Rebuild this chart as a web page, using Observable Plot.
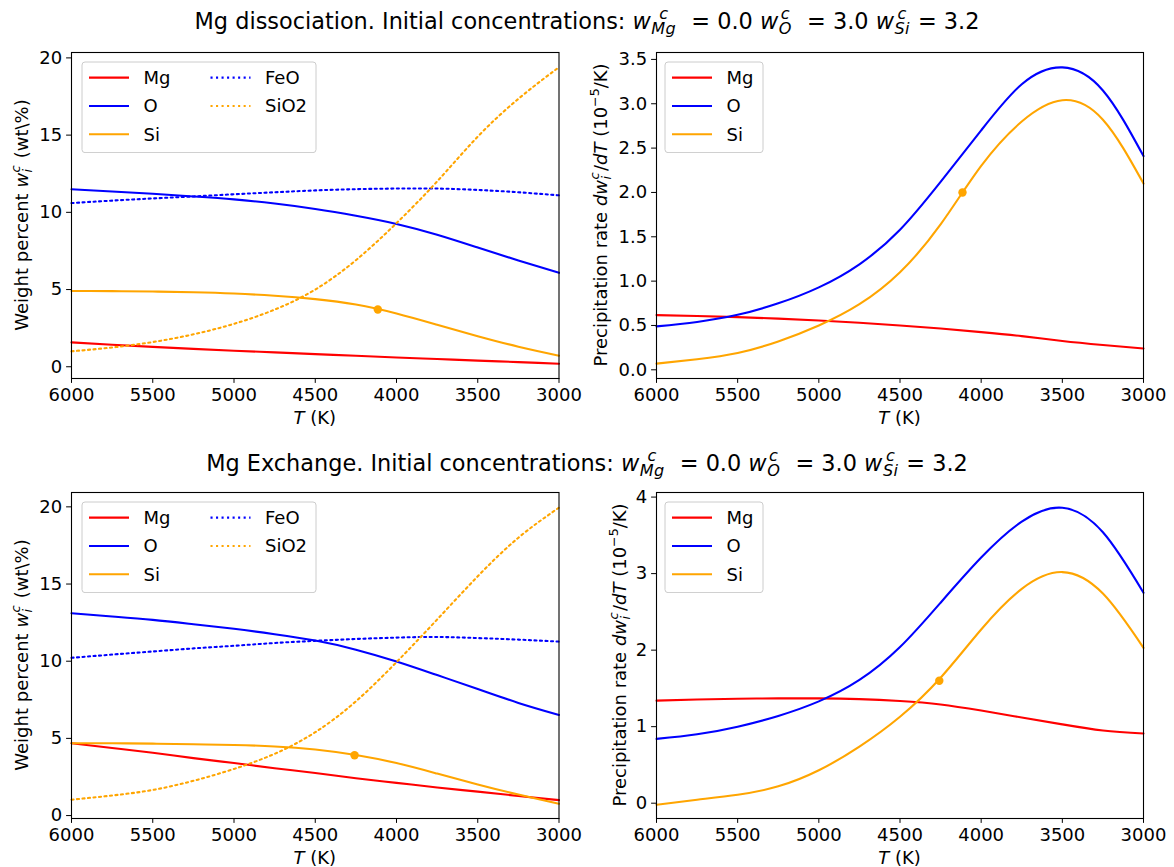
<!DOCTYPE html>
<html><head><meta charset="utf-8">
<script src="https://cdn.jsdelivr.net/npm/d3@7"></script>
<script src="https://cdn.jsdelivr.net/npm/@observablehq/plot@0.6"></script>
<style>
body{margin:0;background:#fff;}
#fig{position:relative;width:1174px;height:867px;font-family:"DejaVu Sans";color:#000;overflow:hidden;background:#fff}
.title{position:absolute;left:0;width:1174px;height:22px;text-align:center;font-size:22.4px;line-height:22px;white-space:pre}
.lab{position:absolute;font-size:18px;line-height:18px;white-space:pre;transform:translate(-50%,-50%)}
.rot{transform:translate(-50%,-50%) rotate(-90deg)}
.ms{display:inline-flex;flex-direction:column;font-size:0.72em;line-height:0.95;vertical-align:0.62em;font-style:italic;margin-left:0.5px;margin-right:1px;letter-spacing:0.02em}
.sup{font-size:0.7em;vertical-align:0.6em}
</style></head><body><div id="fig"></div><script>
// ---------- data ----------
const T = [6000,5750,5500,5250,5000,4750,4500,4250,4000,3750,3500,3250,3000];
const xTicks = [6000,5500,5000,4500,4000,3500,3000];

// Mg dissociation: weight percent
const diss_Mg   = [1.58,1.43,1.29,1.16,1.04,0.93,0.82,0.71,0.60,0.50,0.40,0.30,0.20];
const diss_O    = [11.49,11.35,11.20,11.03,10.84,10.57,10.22,9.78,9.25,8.55,7.72,6.88,6.08];
const diss_Si   = [4.91,4.90,4.87,4.82,4.74,4.60,4.38,4.03,3.45,2.72,1.98,1.30,0.72];
const diss_FeO  = [10.60,10.76,10.90,11.03,11.17,11.30,11.42,11.50,11.54,11.54,11.45,11.30,11.10];
const diss_SiO2 = [1.00,1.25,1.60,2.10,2.78,3.70,5.00,6.90,9.30,12.00,14.90,17.35,19.40];
// Mg dissociation: precipitation rate (1e-5 / K)
const dissR_Mg  = [0.617,0.607,0.594,0.577,0.556,0.530,0.500,0.465,0.425,0.380,0.325,0.280,0.240];
const dissR_O   = [0.49,0.54,0.62,0.75,0.93,1.19,1.58,2.12,2.70,3.22,3.41,3.15,2.41];
const dissR_Si  = [0.07,0.12,0.19,0.32,0.50,0.74,1.10,1.64,2.30,2.80,3.04,2.82,2.10];
const dissMarkT = [4115], dissMarkW = [3.71], dissMarkR = [2.0];

// Mg exchange: weight percent
const exch_Mg   = [4.69,4.38,4.07,3.72,3.40,3.07,2.76,2.42,2.12,1.82,1.55,1.27,1.00];
const exch_O    = [13.11,12.90,12.68,12.40,12.10,11.75,11.34,10.75,9.98,9.10,8.20,7.30,6.52];
const exch_Si   = [4.69,4.68,4.66,4.62,4.57,4.48,4.28,3.92,3.40,2.72,2.02,1.36,0.76];
const exch_FeO  = [10.22,10.43,10.63,10.83,11.00,11.18,11.32,11.44,11.53,11.57,11.50,11.40,11.27];
const exch_SiO2 = [1.03,1.30,1.66,2.25,3.02,4.00,5.40,7.40,9.94,12.70,15.50,18.00,19.95];
// Mg exchange: precipitation rate
const exchR_Mg  = [1.34,1.355,1.365,1.37,1.37,1.36,1.335,1.29,1.21,1.12,1.03,0.95,0.91];
const exchR_O   = [0.84,0.90,1.00,1.14,1.33,1.61,2.04,2.62,3.21,3.68,3.86,3.54,2.75];
const exchR_Si  = [-0.02,0.045,0.11,0.22,0.43,0.74,1.13,1.64,2.27,2.80,3.02,2.74,2.03];
const exchMarkT = [4258], exchMarkW = [3.91], exchMarkR = [1.60];

const RED = "#ff0000", BLUE = "#0000ff", ORANGE = "#ffa500";
const DOT = "2.08,3.44";
const FS = 18;

// ---------- helpers ----------
const fig = document.getElementById("fig");
const ms = (sup, sub) => `<span class="ms"><span>${sup}</span><span>${sub}</span></span>`;
const wLabel = `Weight percent <i>w</i>${ms("c","i")} (wt\\%)`;
const rLabel = `Precipitation rate <i>dw</i>${ms("c","i")}/<i>dT</i> (10<span class="sup">−5</span>/K)`;
const tLabel = `<i>T</i> (K)`;
const titleTail = ` Initial concentrations: <i>w</i>${ms("c","Mg")}  = 0.0 <i>w</i>${ms("c","O")}  = 3.0 <i>w</i>${ms("c","Si")} = 3.2`;

function html(cls, x, y, content) {
  const d = document.createElement("div");
  d.className = cls;
  d.style.left = x + "px";
  d.style.top = y + "px";
  d.innerHTML = content;
  fig.appendChild(d);
}

function panel({left, top, width, mR, series, markT, markV, yDomain, yTicks, yFmt}) {
  const marks = [];
  for (const s of series) {
    const rows = T.map((t, i) => ({T: t, v: s.values[i]}));
    marks.push(Plot.line(rows, {x: "T", y: "v", stroke: s.color, strokeWidth: 2.08, curve: "natural",
      ...(s.dotted ? {strokeDasharray: DOT} : {})}));
  }
  const mrows = markT.map((t, i) => ({T: t, v: markV[i]}));
  marks.push(Plot.dot(mrows, {x: "T", y: "v", r: 4.2, fill: ORANGE, stroke: "none"}));
  marks.push(Plot.axisX({ticks: xTicks, tickFormat: d3.format("d"), tickSize: 4.9, tickPadding: 4.4, fontSize: FS, label: null}));
  marks.push(Plot.axisY({ticks: yTicks, tickFormat: yFmt, tickSize: 4.9, tickPadding: 4.4, fontSize: FS, label: null}));
  marks.push(Plot.frame({stroke: "#000", strokeWidth: 1.1}));
  const svg = Plot.plot({
    width, height: 400,
    marginLeft: 71, marginRight: mR, marginTop: 22, marginBottom: 52,
    x: {domain: [6000, 3000], label: null},
    y: {domain: yDomain, label: null},
    style: {fontFamily: "DejaVu Sans", fontSize: FS + "px", color: "#000", background: "transparent", overflow: "visible"},
    marks
  });
  svg.style.position = "absolute";
  svg.style.left = left + "px";
  svg.style.top = top + "px";
  fig.appendChild(svg);
}

function legend(left, top, w, cols) {
  const h = 90.6;
  const svg = d3.create("svg").attr("width", w + 2).attr("height", h + 2)
    .style("position", "absolute").style("left", (left - 1) + "px").style("top", (top - 1) + "px")
    .style("font-family", "DejaVu Sans").style("font-size", FS + "px");
  svg.append("rect").attr("x", 1).attr("y", 1).attr("width", w).attr("height", h).attr("rx", 3)
    .attr("fill", "rgba(255,255,255,0.8)").attr("stroke", "#cccccc").attr("stroke-width", 1);
  const rowsY = [15.6, 44, 72.3];
  cols.forEach((col, c) => {
    const x0 = 1 + 7 + c * 121.5;
    col.forEach((e, r) => {
      const y = 1 + rowsY[r];
      svg.append("line").attr("x1", x0).attr("x2", x0 + 40).attr("y1", y).attr("y2", y)
        .attr("stroke", e.color).attr("stroke-width", 2.08).attr("stroke-dasharray", e.dotted ? DOT : null);
      svg.append("text").attr("x", x0 + 54.5).attr("y", y).attr("dy", "0.36em").text(e.label);
    });
  });
  fig.appendChild(svg.node());
}

const fmtInt = d3.format("d"), fmt1 = d3.format(".1f");

function scenario(top, W, R, mT, mW, mR, ylo, yhi, rlo, rhi, rTicks, rFmt) {
  panel({left: 0, top, width: 585, mR: 26.5,
    series: [
      {values: W.Mg, color: RED}, {values: W.O, color: BLUE}, {values: W.Si, color: ORANGE},
      {values: W.FeO, color: BLUE, dotted: true}, {values: W.SiO2, color: ORANGE, dotted: true}],
    markT: mT, markV: mW, yDomain: [ylo, yhi], yTicks: [0,5,10,15,20], yFmt: fmtInt});
  panel({left: 585, top, width: 589, mR: 31,
    series: [{values: R.Mg, color: RED}, {values: R.O, color: BLUE}, {values: R.Si, color: ORANGE}],
    markT: mT, markV: mR, yDomain: [rlo, rhi], yTicks: rTicks, yFmt: rFmt});
}

scenario(30, {Mg: diss_Mg, O: diss_O, Si: diss_Si, FeO: diss_FeO, SiO2: diss_SiO2},
  {Mg: dissR_Mg, O: dissR_O, Si: dissR_Si}, dissMarkT, dissMarkW, dissMarkR,
  -0.76, 20.35, -0.098, 3.578, [0,0.5,1,1.5,2,2.5,3,3.5], fmt1);
scenario(470, {Mg: exch_Mg, O: exch_O, Si: exch_Si, FeO: exch_FeO, SiO2: exch_SiO2},
  {Mg: exchR_Mg, O: exchR_O, Si: exchR_Si}, exchMarkT, exchMarkW, exchMarkR,
  -0.19, 20.93, -0.2, 4.06, [0,1,2,3,4], fmtInt);

// legends
const legW = [[{label:"Mg",color:RED},{label:"O",color:BLUE},{label:"Si",color:ORANGE}],
              [{label:"FeO",color:BLUE,dotted:true},{label:"SiO2",color:ORANGE,dotted:true}]];
const legR = [[{label:"Mg",color:RED},{label:"O",color:BLUE},{label:"Si",color:ORANGE}]];
legend(81.5, 61.7, 234, legW);
legend(665, 61.7, 98, legR);
legend(81.5, 501.7, 234, legW);
legend(665, 501.7, 98, legR);

// titles and axis labels
html("title", 0, 6, "Mg dissociation." + titleTail);
html("title", 0, 448, "Mg Exchange." + titleTail);
html("lab", 314.75, 418, tLabel);
html("lab", 899.5, 418, tLabel);
html("lab", 314.75, 858, tLabel);
html("lab", 899.5, 858, tLabel);
html("lab rot", 22, 215, wLabel);
html("lab rot", 600, 215, rLabel);
html("lab rot", 22, 655, wLabel);
html("lab rot", 619, 655, rLabel);
</script></body></html>
